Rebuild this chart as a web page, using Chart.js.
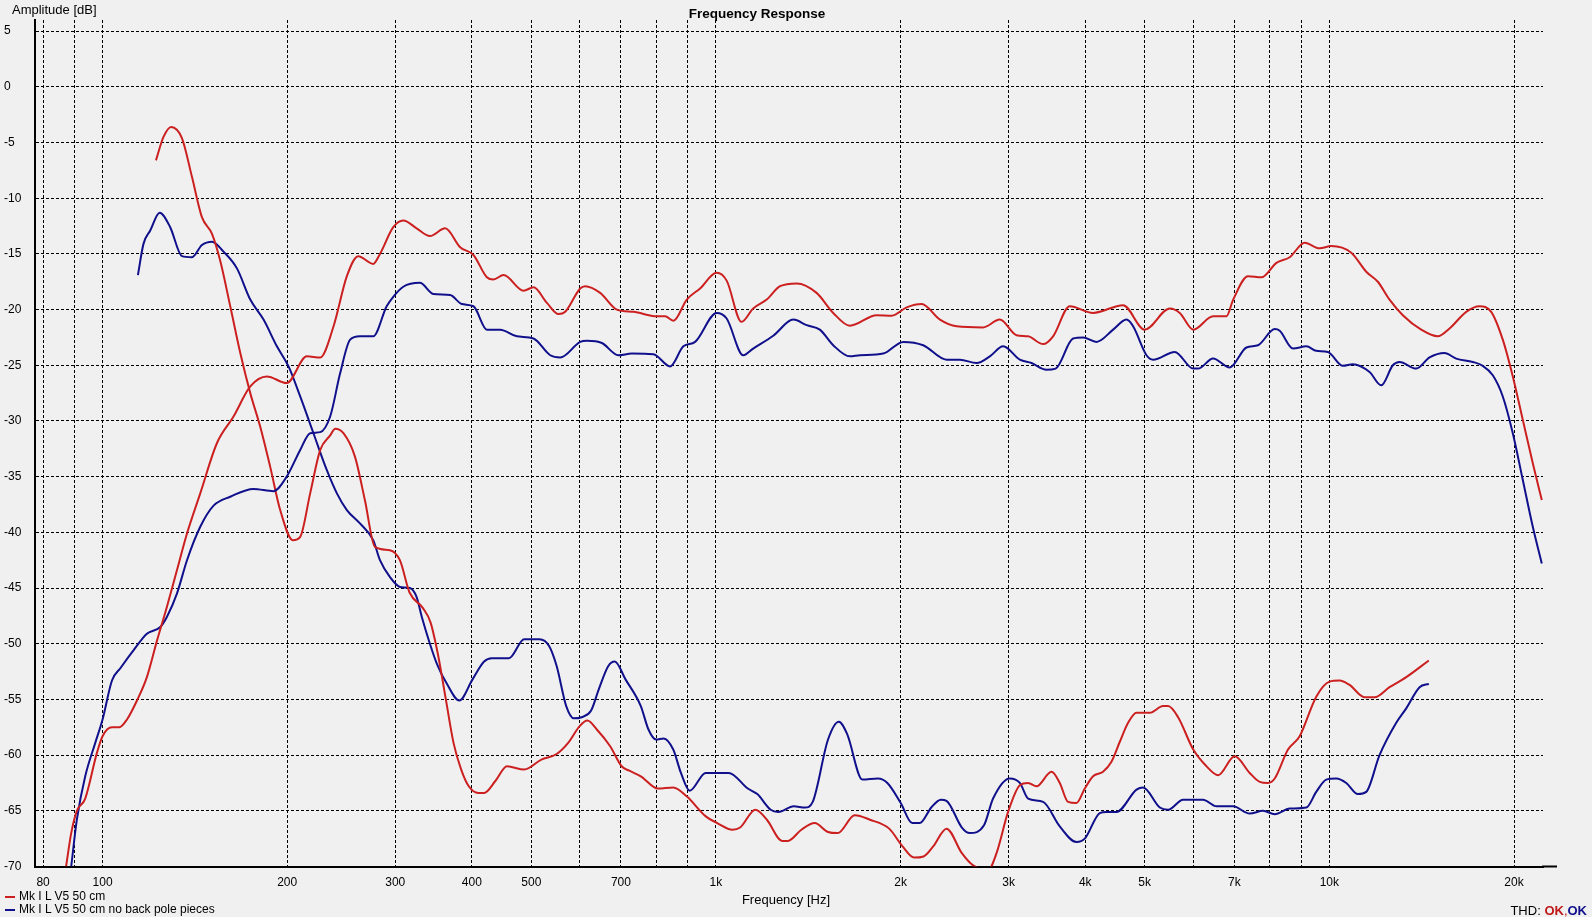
<!DOCTYPE html>
<html>
<head>
<meta charset="utf-8">
<script src="https://cdn.jsdelivr.net/npm/chart.js@4.4.1/dist/chart.umd.min.js"></script>
<style>
  html, body { margin:0; padding:0; background:#f0f0f0; }
  #wrap { position:absolute; left:0; top:0; width:1592px; height:917px; background:#f0f0f0; }
  #c { position:absolute; left:0; top:0; }
  .t { position:absolute; font-family:'Liberation Sans', Arial, sans-serif; color:#000; white-space:nowrap; line-height:1; }
</style>
</head>
<body>
<div id="wrap">
  <canvas id="c" width="1592" height="917"></canvas>
  <div class="t" style="left:12px; top:3px; font-size:13px;">Amplitude [dB]</div>
  <div class="t" style="left:757px; top:7px; font-size:13.5px; font-weight:bold; transform:translateX(-50%);">Frequency Response</div>
  <div class="t" style="left:786px; top:893px; font-size:13px; transform:translateX(-50%);">Frequency [Hz]</div>
  <div class="t" style="left:5px; top:890px; font-size:12px;"><span style="display:inline-block;width:10px;height:2px;background:#cc2020;vertical-align:middle;margin-right:4px;"></span>Mk I L V5 50 cm</div>
  <div class="t" style="left:5px; top:903px; font-size:12px;"><span style="display:inline-block;width:10px;height:2px;background:#10108c;vertical-align:middle;margin-right:4px;"></span>Mk I L V5 50 cm no back pole pieces</div>
  <div class="t" style="right:5px; top:904px; font-size:13px;">THD: <b style="color:#c01818;">OK</b><span style="color:#c01818;">,</span><b style="color:#10108c;">OK</b></div>
</div>
<script>
// ---- data: [frequency Hz, amplitude dB] ----
const redMain = [[87.2,-70],[88.9,-67],[90.8,-65],[93.7,-63.9],[97.9,-59.8],[100,-58.3],[103.6,-57.5],[106.5,-57.5],[109.6,-56.8],[113.8,-55.1],[118.1,-53],[122.7,-49.7],[127.3,-46.7],[132.2,-43.4],[137.3,-40.1],[144.3,-36.5],[153.6,-32],[163.5,-29.6],[174.1,-26.9],[185.3,-26],[199.6,-26.6],[215.3,-24.2],[226.4,-24.3],[238,-21.5],[250.2,-17],[261.1,-15.2],[276.2,-15.9],[283.3,-15.0],[297.8,-12.6],[309.2,-12.0],[325.1,-12.7],[341.7,-13.4],[361.9,-12.7],[382.8,-14.4],[402.4,-15.1],[423.2,-17.1],[433.8,-17.3],[450.5,-16.9],[485.6,-18.3],[504.1,-18.0],[530.2,-19.4],[553.8,-20.4],[567.8,-20.2],[600.7,-18.1],[612,-17.9],[647.5,-18.5],[689.3,-20.0],[733.6,-20.2],[800.9,-20.6],[826.2,-20.6],[852.4,-21.0],[896.3,-19.1],[942.2,-18.1],[1002.6,-16.7],[1041,-17.4],[1101,-21.1],[1150,-19.9],[1210,-19.1],[1272,-17.9],[1354,-17.65],[1459,-18.5],[1553,-20.3],[1653,-21.45],[1828,-20.5],[1934,-20.55],[2046,-19.8],[2164,-19.5],[2318,-20.9],[2468,-21.5],[2726,-21.6],[2902,-20.9],[3090,-22.3],[3228,-22.4],[3415,-23.1],[3545,-22.4],[3774,-19.7],[4119,-20.3],[4610,-19.6],[5000,-21.8],[5494,-19.9],[5704,-20.3],[6000,-21.8],[6463,-20.6],[6796,-20.6],[6970,-19.1],[7369,-17.0],[7749,-17.1],[8198,-15.8],[8617,-15.3],[9116,-14.0],[9639,-14.5],[10071,-14.3],[10857,-14.9],[11485,-16.6],[11996,-17.5],[12535,-19.1],[13176,-20.5],[14118,-21.8],[15026,-22.4],[15700,-21.7],[16716,-20.2],[17570,-19.7],[18360,-20.2],[19175,-22.7],[19910,-26.0],[20672,-29.9],[21462,-33.8],[22200,-37.1]];

const redThd = [[122.2,-6.6],[125.7,-4.5],[129.4,-3.6],[134.7,-4.6],[139.9,-8.1],[145.2,-11.7],[150.8,-13.2],[155.5,-15.6],[161.5,-19.7],[167.7,-23.9],[174.1,-27.5],[180.7,-30.5],[187.6,-34.1],[194.8,-38.0],[204.3,-40.7],[210,-40.4],[218,-36.5],[226.4,-32.6],[235,-31.3],[239.5,-30.7],[247,-31.1],[257.9,-33.2],[267.7,-37.1],[278,-41.3],[294,-41.6],[305.3,-42.5],[316.6,-45.4],[332.9,-46.8],[342.6,-48.1],[352.6,-51.1],[362.8,-55.0],[373.4,-58.9],[384.3,-61.3],[395.4,-62.8],[409.9,-63.4],[418.8,-63.4],[437.2,-62.3],[456.4,-61.0],[486.9,-61.3],[519.3,-60.4],[549.9,-59.9],[574.2,-58.9],[599.5,-57.4],[617,-56.9],[639.4,-57.7],[672.3,-59.2],[701.9,-61.0],[722.4,-61.4],[754.2,-61.9],[804.5,-63.0],[851.9,-62.9],[895.9,-63.7],[962.4,-65.5],[1004.8,-66.1],[1064,-66.7],[1095,-66.5],[1159.7,-64.9],[1210.8,-65.8],[1282,-67.7],[1310,-67.7],[1377.8,-66.7],[1448.7,-66.1],[1523,-66.9],[1579,-67.0],[1684,-65.4],[1783,-65.8],[1916,-66.6],[2015,-68.2],[2104,-69.2],[2180,-69.1],[2260,-68.2],[2376,-66.6],[2517,-68.8],[2626,-69.9],[2778,-70.3],[2867,-68.8],[2994,-65.1],[3129,-62.7],[3228,-62.5],[3331,-62.8],[3524,-61.5],[3635,-62.5],[3750,-64.2],[3870,-64.3],[3993,-63.0],[4119,-61.9],[4276,-61.5],[4413,-60.6],[4554,-58.8],[4698,-57.1],[4849,-56.2],[5096,-56.2],[5357,-55.6],[5459,-55.6],[5668,-56.6],[6000,-59.5],[6305,-61.0],[6585,-61.8],[7010,-60.1],[7416,-61.6],[7700,-62.4],[7943,-62.5],[8146,-62.1],[8562,-59.5],[8946,-58.3],[9520,-54.75],[10008,-53.4],[10390,-53.3],[10787,-53.7],[11412,-54.8],[11849,-54.8],[12535,-53.9],[13346,-53.0],[14527,-51.5]];

const blueMain = [[88.9,-70],[90.8,-65.8],[93.7,-61.9],[97.3,-58.9],[100,-56.8],[103.6,-53.3],[106.9,-52.2],[112.3,-50.6],[118.1,-49.1],[124.2,-48.5],[127.3,-47.6],[132.2,-45.5],[137.3,-42.5],[144.3,-39.5],[151.7,-37.6],[161.5,-36.8],[176.2,-36.1],[190,-36.3],[199.6,-35.0],[210,-32.6],[218,-31.1],[226.4,-31.0],[235,-29.6],[244,-25.7],[253.3,-22.7],[262.8,-22.4],[276.2,-22.4],[290.5,-19.7],[297.8,-18.85],[309.2,-17.95],[329.1,-17.6],[346,-18.6],[368.7,-18.7],[385.3,-19.5],[402.4,-19.7],[423.2,-21.8],[445,-21.8],[473.7,-22.4],[504.1,-22.6],[536.8,-24.1],[557.3,-24.3],[600.7,-22.9],[616,-22.8],[651.7,-23.0],[693.4,-24.1],[729.2,-23.95],[790.7,-24.0],[841.9,-25.1],[884.9,-23.3],[924.7,-22.9],[1002.6,-20.3],[1041,-20.8],[1108,-24.1],[1150,-23.5],[1240,-22.35],[1337,-20.9],[1406,-21.4],[1477,-21.8],[1553,-23.2],[1653,-24.2],[1717,-24.1],[1874,-23.95],[2020,-22.9],[2177,-23.2],[2377,-24.5],[2499,-24.5],[2660,-24.8],[2796,-24.2],[2939,-23.3],[3129,-24.5],[3269,-24.8],[3458,-25.4],[3579,-25.3],[3821,-22.6],[3967,-22.5],[4172,-22.9],[4441,-21.8],[4670,-20.9],[4787,-21.5],[5034,-24.1],[5160,-24.5],[5597,-23.8],[6000,-25.3],[6109,-25.3],[6463,-24.4],[6880,-25.2],[7325,-23.4],[7651,-23.2],[8146,-21.75],[8300,-21.9],[8724,-23.5],[9174,-23.3],[9520,-23.7],[9944,-23.8],[10520,-25.05],[10922,-24.9],[11629,-25.6],[12150,-26.8],[12691,-25.0],[13015,-24.7],[13856,-25.3],[14566,-24.3],[15408,-23.9],[16100,-24.4],[17134,-24.7],[17790,-25.05],[18470,-25.9],[19175,-27.8],[19910,-31.1],[20672,-35.3],[21462,-39.5],[22200,-42.8]];

const blueThd = [[114.2,-16.9],[116.6,-14.1],[119.6,-12.9],[123.9,-11.3],[128.9,-12.6],[134.7,-15.2],[139.9,-15.3],[145.2,-14.2],[150.8,-13.9],[157.5,-14.8],[165.6,-16.3],[174.1,-19.1],[183,-20.9],[192.4,-23.3],[201,-25.1],[210,-27.8],[220.7,-31.1],[232,-34.4],[241,-36.5],[250.2,-38.0],[262.8,-39.2],[276.2,-40.7],[283.3,-42.5],[294,-44.0],[305.3,-44.9],[317,-45.0],[325,-45.8],[331.5,-47.6],[341.7,-50.0],[350.8,-51.8],[364.2,-53.6],[381.5,-55.1],[401,-53.2],[418.8,-51.6],[431,-51.3],[459.7,-51.3],[486.9,-49.6],[515.6,-49.6],[534.5,-50.2],[549.9,-52.0],[570,-55.6],[586.7,-56.7],[603.9,-56.6],[625.9,-56.0],[644.1,-54.1],[667.6,-52.0],[684,-51.6],[712.1,-53.2],[754.2,-55.6],[776.2,-57.7],[798.7,-58.6],[822,-58.5],[851.9,-59.5],[876.8,-61.6],[906.1,-63.2],[962.4,-61.6],[1049,-61.6],[1127,-63.0],[1168,-63.5],[1228,-64.9],[1264,-65.1],[1339,-64.6],[1397,-64.7],[1438,-64.2],[1523,-58.6],[1586,-57.0],[1636,-58.1],[1733,-62.2],[1836,-62.1],[1903,-62.5],[2001,-64.3],[2089,-66.1],[2149,-66.1],[2244,-64.7],[2326,-64.0],[2376,-64.1],[2517,-66.5],[2593,-67.0],[2735,-66.3],[2830,-63.9],[3013,-62.1],[3129,-62.5],[3228,-63.9],[3415,-64.2],[3635,-66.4],[3870,-67.8],[3993,-67.5],[4224,-65.2],[4331,-65.1],[4498,-65.1],[4849,-63.1],[4970,-62.9],[5292,-64.7],[5459,-64.9],[5775,-64.0],[6225,-64.0],[6546,-64.6],[6966,-64.6],[7416,-65.25],[7796,-65.0],[8146,-65.3],[8617,-64.8],[9174,-64.7],[9520,-63.3],[9884,-62.2],[10262,-62.1],[10655,-62.5],[11129,-63.5],[11485,-63.3],[12073,-60.0],[12854,-57.1],[13346,-55.8],[14029,-53.9],[14527,-53.6]];

const xGridTicks = [80,90,100,200,300,400,500,600,700,800,900,1000,2000,3000,4000,5000,6000,7000,8000,9000,10000,20000];
const xLabels = {80:'80',100:'100',200:'200',300:'300',400:'400',500:'500',700:'700',1000:'1k',2000:'2k',3000:'3k',4000:'4k',5000:'5k',7000:'7k',10000:'10k',20000:'20k'};
const yTicks = [-70,-65,-60,-55,-50,-45,-40,-35,-30,-25,-20,-15,-10,-5,0,5];

const RED = '#cc2020', BLUE = '#10108c';
const toXY = arr => arr.map(p => ({x:p[0], y:p[1]}));
const ds = (data, color) => ({data: toXY(data), borderColor: color, borderWidth: 2, pointRadius: 0, fill: false, cubicInterpolationMode: 'monotone'});

Chart.defaults.font.family = "'Liberation Sans', Arial, sans-serif";
Chart.defaults.font.size = 12;
Chart.defaults.color = '#000';

const extendAxis = {
  id: 'extendAxis',
  afterDraw(chart) {
    const {ctx, chartArea} = chart;
    ctx.save();
    ctx.setLineDash([]);
    ctx.strokeStyle = '#000';
    ctx.lineWidth = 2;
    ctx.beginPath();
    ctx.moveTo(chartArea.right - 1, chartArea.bottom);
    ctx.lineTo(chartArea.right + 14, chartArea.bottom);
    ctx.stroke();
    ctx.restore();
  }
};

new Chart(document.getElementById('c'), {
  type: 'line',
  data: { datasets: [ds(redMain, RED), ds(blueMain, BLUE), ds(redThd, RED), ds(blueThd, BLUE)] },
  options: {
    responsive: false,
    animation: false,
    layout: { padding: { left: 4, top: 20, right: 49, bottom: 0 } },
    plugins: { legend: { display: false }, title: { display: false }, tooltip: { enabled: false } },
    scales: {
      x: {
        type: 'logarithmic',
        min: 77.6, max: 22300,
        afterBuildTicks: s => { s.ticks = xGridTicks.map(v => ({value: v})); },
        afterFit: s => { s.height = 50.5; },
        ticks: { autoSkip: false, maxRotation: 0, padding: 9, callback: v => xLabels[v] || '' },
        grid: { color: '#000', lineWidth: 1, drawTicks: false },
        border: { display: true, color: '#000', width: 2, dash: [3,2] }
      },
      y: {
        type: 'linear',
        min: -70, max: 6,
        afterBuildTicks: s => { s.ticks = yTicks.map(v => ({value: v})); },
        afterFit: s => { s.width = 31; },
        ticks: { crossAlign: 'far', padding: 0 },
        grid: { color: '#000', lineWidth: 1, drawTicks: false },
        border: { display: true, color: '#000', width: 2, dash: [3,2] }
      }
    }
  },
  plugins: [extendAxis]
});
</script>
</body>
</html>
